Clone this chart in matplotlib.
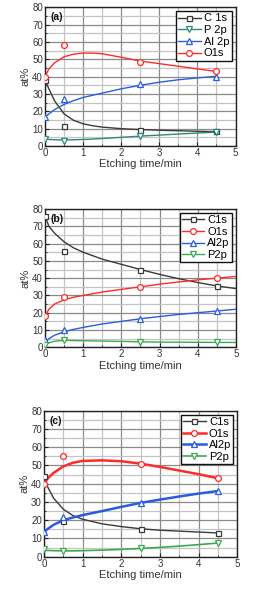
import matplotlib
matplotlib.use("Agg")
import matplotlib.pyplot as plt
from matplotlib.ticker import MultipleLocator

plt.rcParams['font.family'] = ['Liberation Sans', 'DejaVu Sans']

# measured points (x = etching time)
t_pts = [0, 0.5, 2.5, 4.5]

# ---- panel (a)
a_C = [38, 11.5, 9.5, 8.5]
a_P = [4, 3, 6, 8]
a_Al = [16.5, 27, 35.5, 40]
a_O = [40, 58, 48.5, 43]
a_tc = [0, 0.1, 0.25, 0.5, 0.75, 1, 1.25, 1.5, 2, 2.5, 3, 3.5, 4, 4.5]
a_Cc = [38, 33, 26, 18.5, 14.8, 12.8, 11.7, 10.9, 10, 9.5, 9.1, 8.8, 8.5, 8.3]
a_Pc = [4, 3.8, 3.6, 3.5, 3.6, 3.8, 4.0, 4.3, 5, 5.7, 6.3, 6.9, 7.5, 8]
a_Alc = [16.5, 18.5, 21, 24, 26.2, 28, 29.3, 30.5, 33, 35, 36.8, 38.2, 39.3, 40.2]
a_Oc = [40, 44.5, 48, 51.5, 53, 53.6, 53.6, 53.2, 51.2, 49, 47.5, 46, 44.5, 43]

# ---- panel (b)
b_C = [76, 56, 44.5, 35.5]
b_O = [18, 29, 35, 40]
b_Al = [4, 10, 16.5, 21]
b_P = [1.5, 4, 3, 2.8]
b_tc = [0, 0.1, 0.25, 0.5, 0.75, 1, 1.5, 2, 2.5, 3, 3.5, 4, 4.5, 5]
b_Cc = [76, 70, 66, 61, 57.5, 55, 51, 48, 45, 42.2, 39.7, 37.5, 35.5, 34]
b_Oc = [18, 22, 25, 27.5, 29, 30, 32, 33.5, 35, 36.5, 37.8, 39, 40, 41]
b_Alc = [2.5, 5, 7, 9, 10.4, 11.5, 13.5, 15, 16.5, 17.8, 19, 20, 21, 22]
b_Pc = [1.5, 2.6, 3.5, 4, 3.9, 3.8, 3.6, 3.4, 3.2, 3.0, 2.95, 2.9, 2.85, 2.8]

# ---- panel (c)
c_C = [44, 19.5, 15, 13]
c_O = [40, 55, 51, 43]
c_Al = [13.5, 22, 29.5, 36]
c_P = [4, 3, 4.5, 7.5]
c_tc = [0, 0.1, 0.25, 0.5, 0.75, 1, 1.5, 2, 2.5, 3, 3.5, 4, 4.5]
c_Cc = [43, 38, 32, 26, 22.5, 20.5, 18, 16.5, 15.3, 14.5, 14, 13.5, 13]
c_Oc = [40, 43, 46, 49.5, 51.5, 52.5, 52.8, 52.3, 51, 49.2, 47.2, 45.2, 43]
c_Alc = [13.5, 15.3, 17.5, 20, 21.5, 22.8, 25, 27.3, 29.5, 31.3, 33, 34.6, 36]
c_Pc = [3.5, 3.4, 3.3, 3.2, 3.2, 3.3, 3.6, 4, 4.5, 5.1, 5.8, 6.6, 7.5]

GRAY = '#3a3a3a'
RED = '#ff2a2a'
BLUE = '#2a5ce0'
TEAL = '#2a8a7a'
GREEN = '#3aaa50'

fig = plt.figure(figsize=(2.62, 5.95), dpi=100)

rects = [
    [0.172, 0.7546, 0.727, 0.2331],
    [0.172, 0.4163, 0.728, 0.2324],
    [0.168, 0.0644, 0.738, 0.2453],
]

panels = [
    ('(a)', a_tc, [
        ('C 1s', GRAY, 's', a_C, a_Cc, 1.0),
        ('P 2p', TEAL, 'v', a_P, a_Pc, 1.0),
        ('Al 2p', BLUE, '^', a_Al, a_Alc, 1.0),
        ('O1s', RED, 'o', a_O, a_Oc, 1.0),
    ]),
    ('(b)', b_tc, [
        ('C1s', GRAY, 's', b_C, b_Cc, 1.0),
        ('O1s', RED, 'o', b_O, b_Oc, 1.0),
        ('Al2p', BLUE, '^', b_Al, b_Alc, 1.0),
        ('P2p', GREEN, 'v', b_P, b_Pc, 1.0),
    ]),
    ('(c)', c_tc, [
        ('C1s', GRAY, 's', c_C, c_Cc, 1.0),
        ('O1s', RED, 'o', c_O, c_Oc, 1.8),
        ('Al2p', BLUE, '^', c_Al, c_Alc, 1.8),
        ('P2p', GREEN, 'v', c_P, c_Pc, 1.2),
    ]),
]

for rect, (lab, tc, series) in zip(rects, panels):
    ax = fig.add_axes(rect)
    ax.set_xlim(0, 5)
    ax.set_ylim(0, 80)
    ax.xaxis.set_major_locator(MultipleLocator(1))
    ax.xaxis.set_minor_locator(MultipleLocator(0.5))
    ax.yaxis.set_major_locator(MultipleLocator(10))
    ax.yaxis.set_minor_locator(MultipleLocator(5))
    ax.grid(True, which='major', color='#8a8a8a', lw=0.9)
    ax.grid(True, which='minor', color='#c4c4c4', lw=0.9)
    ax.set_axisbelow(True)
    for s in ax.spines.values():
        s.set_linewidth(1.0)
        s.set_color('#222222')
    ax.tick_params(which='both', direction='in', labelsize=7, colors='#222222',
                   labelcolor='#333333', pad=1.5)
    ax.tick_params(which='major', length=3)
    ax.tick_params(which='minor', length=1.5)
    ax.set_xlabel('Etching time/min', fontsize=8, color='#333333', labelpad=1)
    ax.set_ylabel('at%', fontsize=8, color='#333333', labelpad=1)
    handles = []
    for name, col, mk, pts, curve, lw in series:
        ax.plot(tc, curve, color=col, lw=lw, zorder=3)
        ax.plot(t_pts, pts, ls='none', marker=mk, mfc='white', mec=col,
                ms=4.2 if mk != 's' else 3.6, mew=0.9, zorder=4)
        h, = ax.plot([], [], color=col, lw=lw, marker=mk, mfc='white', mec=col,
                     ms=4.2 if mk != 's' else 3.6, mew=0.9)
        h.set_label(name)
        handles.append(h)
    leg = ax.legend(handles=handles, loc='upper right', fontsize=8,
                    frameon=True, fancybox=False, edgecolor='#111111',
                    framealpha=1, borderpad=0.2, labelspacing=0.15,
                    handlelength=2.0, handletextpad=0.3, borderaxespad=0.35,
                    markerscale=1.0)
    leg.get_frame().set_linewidth(1.0)
    ax.text(0.03, 0.965, lab, transform=ax.transAxes, fontsize=7.5,
            fontweight='bold', va='top', ha='left', color='#111111')

fig.savefig('out.png', dpi=100)
